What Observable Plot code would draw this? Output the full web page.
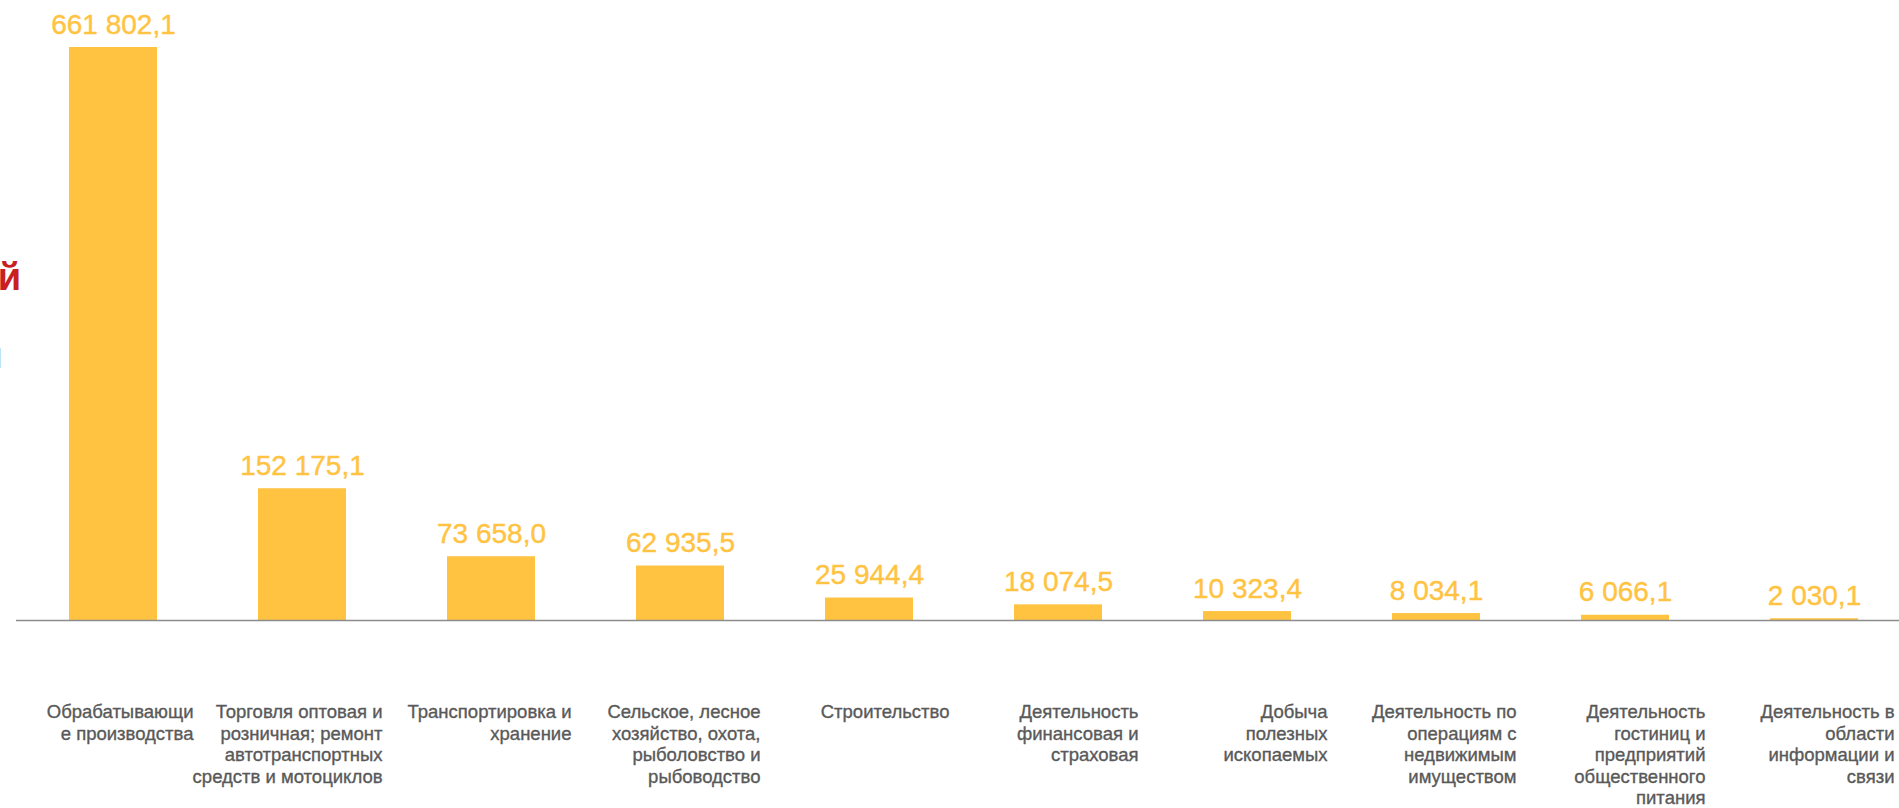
<!DOCTYPE html>
<html><head><meta charset="utf-8">
<script src="https://cdn.jsdelivr.net/npm/d3@7"></script>
<script src="https://cdn.jsdelivr.net/npm/@observablehq/plot@0.6"></script>
<style>
html,body{margin:0;padding:0;background:#fff;overflow:hidden;}
#chart{width:1899px;height:808px;}
</style></head><body>
<div id="chart"></div>
<script>
const categories = [
  "Обрабатывающи\nе производства",
  "Торговля оптовая и\nрозничная; ремонт\nавтотранспортных\nсредств и мотоциклов",
  "Транспортировка и\nхранение",
  "Сельское, лесное\nхозяйство, охота,\nрыболовство и\nрыбоводство",
  "Строительство",
  "Деятельность\nфинансовая и\nстраховая",
  "Добыча\nполезных\nископаемых",
  "Деятельность по\nоперациям с\nнедвижимым\nимуществом",
  "Деятельность\nгостиниц и\nпредприятий\nобщественного\nпитания",
  "Деятельность в\nобласти\nинформации и\nсвязи"
];
const values = [661802.1, 152175.1, 73658.0, 62935.5, 25944.4, 18074.5, 10323.4, 8034.1, 6066.1, 2030.1];
const titleFragment = "ей";
const sideFragment = "l";

const data = categories.map((c, i) => ({category: c, value: values[i]}));
const ru = d3.formatLocale({decimal: ",", thousands: " ", grouping: [3], currency: ["", " ₽"]});
const fmt = ru.format(",.1f");

const gold = "#FFC341";
const chart = Plot.plot({
  width: 1899, height: 808,
  marginLeft: 16, marginRight: 0, marginTop: 0, marginBottom: 0,
  style: {fontFamily: '"Liberation Sans", Arial, sans-serif', background: "#fff"},
  x: {domain: categories, range: [16, 1910], paddingInner: 0.535, paddingOuter: 0.27, axis: null},
  y: {domain: [0, d3.max(values)], range: [620, 47], axis: null},
  marks: [
    Plot.barY(data, {x: "category", y: "value", fill: gold}),
    Plot.ruleY([0], {stroke: "#8c8c8c", strokeWidth: 1.5}),
    Plot.text(data, {x: "category", y: "value", text: d => fmt(d.value), dy: -14, lineAnchor: "bottom", fill: gold, stroke: gold, strokeWidth: 0.4, fontSize: 28}),
    Plot.text(data, {x: "category", y: 0, text: "category", textAnchor: "end", lineAnchor: "top", dx: 80, dy: 82, fontSize: 18.5, lineHeight: 1.17, fill: "#595959", stroke: "#595959", strokeWidth: 0.35})
  ]
});
document.getElementById("chart").appendChild(chart);

const svg = d3.select(chart);
svg.append("text").attr("x", 21).attr("y", 290).attr("text-anchor", "end")
  .attr("font-family", '"Liberation Sans", Arial, sans-serif').attr("font-weight", "bold")
  .attr("font-size", 38).attr("fill", "#C8201E").text(titleFragment);
svg.append("text").attr("x", 2).attr("y", 368).attr("text-anchor", "end")
  .attr("font-family", '"Liberation Sans", Arial, sans-serif')
  .attr("font-size", 27).attr("fill", "#909090").text(sideFragment);
</script>
</body></html>
